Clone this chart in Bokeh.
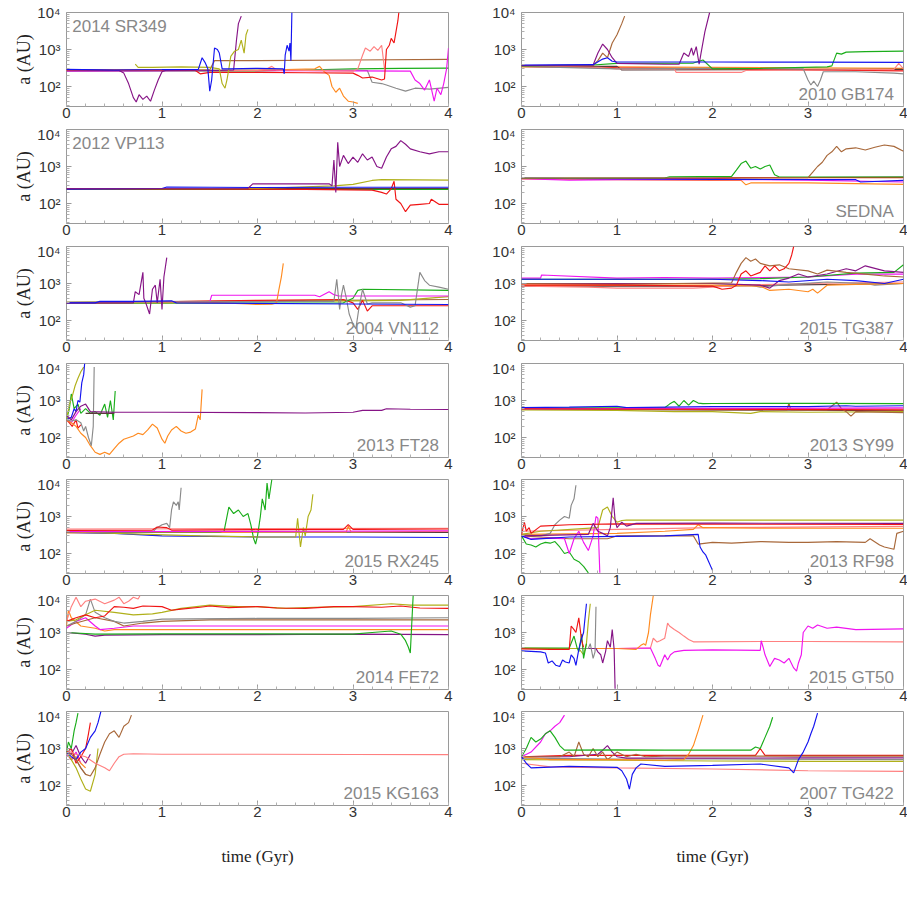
from bokeh.plotting import figure
from bokeh.models import FixedTicker, Label, CustomJSTickFormatter
from bokeh.layouts import gridplot
from bokeh.embed import file_html
from bokeh.resources import INLINE

# ---------------- colours ----------------
COLORS = {
    "red": "#f01414", "green": "#1aad1a", "blue": "#1414f0", "magenta": "#f014f0",
    "orange": "#ff8a1f", "brown": "#a8683a", "purple": "#861486", "olive": "#b0b01a",
    "gray": "#8a8a8a", "salmon": "#ff8080", "dark": "#5a3a3a",
}

# ---------------- data (time in Gyr, semimajor axis in AU) ----------------
SR349 = {
    "green": ([0, 1, 2, 2.5, 3.0, 3.5, 4.0], [260, 262, 265, 280, 300, 310, 315]),
    "brown": ([0, 1.5, 1.55, 2.0, 3.0, 4.0], [280, 285, 500, 500, 520, 540]),
    "gray": ([0, 3.0, 3.15, 3.2, 3.3, 3.35, 3.45, 3.55, 3.65, 3.8, 4.0], [275, 280, 270, 130, 120, 110, 90, 75, 90, 85, 95]),
    "magenta": ([0, 1.0, 2.0, 3.0, 3.6, 3.65, 3.7, 3.75, 3.8, 3.85, 3.88, 3.92, 3.95, 3.98, 4.0],
                [260, 265, 270, 265, 260, 150, 120, 80, 150, 40, 90, 60, 120, 300, 1100]),
    "orange": ([0, 2.0, 2.6, 2.65, 2.7, 2.75, 2.78, 2.82, 2.86, 2.9, 2.95, 3.0, 3.05],
               [270, 275, 300, 350, 250, 200, 100, 70, 90, 55, 40, 38, 35]),
    "salmon": ([0, 2.0, 2.1, 2.15, 2.2, 3.0, 3.05, 3.1, 3.13, 3.18, 3.22, 3.26, 3.3, 3.33],
               [270, 270, 300, 350, 280, 260, 300, 700, 1100, 900, 1200, 950, 1300, 300]),
    "red": ([0, 1.0, 1.35, 1.4, 1.5, 2.0, 2.5, 3.0, 3.05, 3.1, 3.2, 3.3, 3.33, 3.35, 3.38, 3.4, 3.43, 3.45, 3.47, 3.48],
            [280, 275, 270, 220, 240, 240, 235, 230, 200, 170, 180, 150, 160, 1000, 1300, 2000, 1500, 3000, 6000, 10000]),
    "purple": ([0, 0.55, 0.6, 0.65, 0.7, 0.73, 0.76, 0.8, 0.84, 0.88, 0.92, 0.96, 1.0, 1.05, 1.3, 1.6, 1.75, 1.78, 1.8, 1.83],
               [280, 270, 230, 120, 50, 38, 60, 45, 55, 40, 80, 150, 250, 280, 275, 270, 280, 1800, 5000, 8000]),
    "olive": ([0.72, 0.75, 0.9, 1.2, 1.5, 1.6, 1.63, 1.66, 1.68, 1.7, 1.72, 1.76, 1.8, 1.83, 1.86, 1.88, 1.9],
              [400, 330, 330, 340, 330, 300, 120, 90, 150, 300, 650, 900, 1000, 1800, 800, 2500, 3500]),
    "blue": ([0, 0.5, 1.0, 1.38, 1.42, 1.45, 1.48, 1.5, 1.52, 1.55, 1.58, 1.6, 1.63, 1.7, 2.0, 2.27, 2.28, 2.29, 2.31, 2.33, 2.34, 2.35, 2.36],
             [290, 280, 285, 290, 600, 450, 300, 75, 150, 1100, 1000, 800, 300, 300, 310, 300, 220, 700, 1300, 900, 1500, 500, 10000]),
}

GB174 = {
    "orange": ([0, 1, 2, 3, 4], [340, 340, 330, 320, 310]),
    "dark": ([0, 1.0, 1.05, 4], [350, 350, 280, 290]),
    "red": ([0, 1.0, 2.0, 3.0, 4.0], [350, 320, 300, 280, 265]),
    "salmon": ([0, 0.8, 1.0, 1.6, 1.62, 2.3, 2.35, 3.0, 3.9, 3.95, 4.0], [350, 330, 300, 300, 240, 240, 270, 280, 290, 420, 300]),
    "gray": ([0, 1.0, 2.0, 2.95, 3.0, 3.03, 3.06, 3.1, 3.13, 3.16, 3.5, 3.9, 4.0],
             [350, 300, 310, 300, 150, 110, 140, 100, 150, 250, 250, 230, 220]),
    "green": ([0, 0.75, 1.0, 1.8, 1.9, 2.0, 2.5, 3.2, 3.25, 3.3, 3.35, 3.4, 3.6, 4.0],
              [360, 380, 420, 430, 520, 300, 310, 340, 360, 800, 750, 850, 880, 900]),
    "brown": ([0, 0.75, 0.8, 0.85, 0.9, 0.95, 1.0, 1.05, 1.08], [360, 370, 500, 800, 600, 1500, 2500, 5000, 8000]),
    "purple": ([0, 0.75, 0.8, 0.85, 0.9, 0.95, 1.0, 1.5, 1.65, 1.7, 1.75, 1.78, 1.8, 1.83, 1.86, 1.88, 1.92, 1.97],
               [370, 380, 800, 1400, 1000, 600, 420, 400, 400, 800, 650, 1100, 700, 1200, 400, 800, 3000, 10000]),
    "blue": ([0, 0.75, 0.85, 0.9, 0.95, 1.0, 2.0, 3.0, 4.0], [380, 390, 550, 600, 480, 460, 460, 455, 450]),
}

VP113 = {
    "green": ([0, 2, 4], [240, 240, 240]),
    "dark": ([0, 4], [250, 255]),
    "olive": ([0, 2.0, 2.8, 3.0, 3.2, 3.3, 4.0], [250, 255, 300, 330, 420, 440, 430]),
    "red": ([0, 2.5, 3.2, 3.3, 3.35, 3.4, 3.43, 3.45, 3.5, 3.55, 3.6, 3.7, 3.8, 3.82, 3.9, 4.0],
            [250, 240, 230, 200, 180, 250, 400, 130, 100, 60, 90, 95, 100, 130, 95, 95]),
    "blue": ([0, 1.0, 1.05, 2, 3, 4], [245, 255, 280, 270, 275, 275]),
    "purple": ([0, 1.9, 1.95, 2.75, 2.78, 2.8, 2.82, 2.84, 2.86, 2.9, 2.95, 3.0, 3.05, 3.1, 3.15, 3.2, 3.25, 3.3,
                3.35, 3.4, 3.45, 3.5, 3.55, 3.6, 3.7, 3.8, 3.9, 4.0],
               [250, 255, 340, 340, 300, 1500, 200, 4500, 1000, 2000, 1200, 1800, 1300, 2200, 1500, 1800, 1000, 900,
                1800, 3000, 3500, 5000, 4000, 3000, 2500, 2200, 2500, 2500]),
}

SEDNA = {
    "dark": ([0, 2, 4], [480, 490, 520]),
    "red": ([0, 2.0, 2.3, 4.0], [480, 470, 500, 500]),
    "orange": ([0, 2.0, 2.3, 2.35, 2.4, 3.0, 4.0], [460, 420, 420, 320, 360, 360, 330]),
    "magenta": ([0, 0.5, 1.0, 2.0, 3.0, 4.0], [470, 430, 440, 450, 430, 380]),
    "blue": ([0, 2.0, 3.5, 3.55, 4.0], [480, 450, 440, 380, 420]),
    "green": ([0, 1.5, 1.55, 2.2, 2.25, 2.3, 2.35, 2.4, 2.45, 2.5, 2.55, 2.6, 2.65, 2.7, 4.0],
              [480, 490, 530, 540, 800, 1200, 1400, 900, 1000, 850, 1000, 1100, 600, 520, 520]),
    "brown": ([0, 3.0, 3.05, 3.1, 3.15, 3.2, 3.25, 3.3, 3.35, 3.4, 3.5, 3.6, 3.7, 3.8, 3.9, 4.0],
              [480, 500, 700, 1000, 1300, 2000, 2500, 3500, 2500, 3000, 3200, 2800, 3300, 3800, 3500, 2600]),
}

VN112 = {
    "brown": ([0, 2.0, 4.0], [310, 340, 370]),
    "olive": ([0, 2.5, 3.5, 4.0], [310, 330, 350, 440]),
    "red": ([0, 2.0, 2.9, 3.0, 3.05, 3.1, 3.15, 3.2, 4.0], [290, 350, 370, 300, 200, 350, 180, 250, 250]),
    "green": ([0, 2.9, 3.0, 3.05, 3.1, 4.0], [290, 300, 400, 650, 700, 650]),
    "magenta": ([0, 1.5, 1.52, 2.6, 2.65, 2.75, 2.8, 2.85, 3.0, 4.0], [300, 320, 480, 480, 440, 600, 500, 460, 460, 460]),
    "orange": ([0, 1.5, 1.9, 2.0, 2.15, 2.2, 2.22, 2.25, 2.27], [300, 310, 280, 270, 275, 300, 600, 1500, 3500]),
    "gray": ([0, 2.5, 2.8, 2.83, 2.86, 2.88, 2.9, 2.93, 2.96, 3.0, 3.03, 3.06, 3.1, 3.15, 3.2, 3.5, 3.6, 3.65, 3.7, 3.75, 3.8, 3.9, 4.0],
             [310, 330, 330, 1300, 200, 500, 900, 400, 150, 80, 60, 200, 700, 280, 300, 300, 230, 250, 2000, 1200, 900, 800, 700]),
    "purple": ([0, 0.7, 0.72, 0.76, 0.8, 0.81, 0.83, 0.87, 0.9, 0.93, 0.95, 0.98, 1.0, 1.02, 1.05],
               [300, 300, 600, 500, 2000, 400, 300, 150, 700, 900, 300, 1300, 200, 1500, 5000]),
    "blue": ([0, 0.3, 0.35, 0.7, 1.1, 1.15, 2, 3, 4], [300, 300, 330, 330, 340, 300, 290, 280, 270]),
}

TG387 = {
    "dark": ([0, 2, 4], [850, 850, 1000]),
    "salmon": ([0, 0.7, 1.0, 1.8, 2.0, 2.3, 3.0, 4.0], [850, 800, 750, 750, 800, 900, 1000, 1100]),
    "gray": ([0, 2.0, 2.4, 2.5, 2.8, 3.2, 3.6, 3.7, 4.0], [1000, 1000, 900, 800, 950, 1100, 1000, 900, 1000]),
    "orange": ([0, 2.0, 2.5, 2.6, 2.8, 3.0, 3.05, 3.1, 3.2, 3.5, 4.0], [900, 900, 850, 650, 700, 600, 700, 550, 900, 950, 1000]),
    "magenta": ([0, 0.2, 0.21, 1.0, 1.5, 2.0, 3.0, 3.5, 4.0], [1400, 1400, 1700, 1400, 1450, 1400, 1500, 1800, 1800]),
    "green": ([0, 2.0, 2.5, 3.0, 3.5, 3.9, 4.0], [1300, 1300, 1350, 1500, 1900, 2000, 3200]),
    "purple": ([0, 2.0, 2.5, 2.6, 2.7, 2.8, 2.9, 3.0, 3.2, 3.4, 3.5, 3.6, 3.8, 4.0],
               [1000, 1000, 900, 750, 1200, 1400, 1800, 1500, 1800, 2500, 2200, 3000, 2200, 2000]),
    "brown": ([0, 1.0, 2.2, 2.25, 2.3, 2.35, 2.4, 2.45, 2.5, 2.6, 2.7, 2.8, 3.0, 3.1, 3.2, 3.4, 3.6, 3.8, 4.0],
              [1000, 950, 1050, 2000, 3500, 5000, 4000, 4600, 3500, 3000, 3200, 2500, 2200, 1800, 2300, 2000, 1800, 1600, 1500]),
    "blue": ([0, 1, 2, 2.5, 2.8, 3.2, 3.5, 3.8, 4.0], [1300, 1300, 1300, 1200, 1100, 1300, 1200, 1000, 1300]),
    "red": ([0, 1.0, 2.0, 2.1, 2.2, 2.25, 2.3, 2.35, 2.4, 2.5, 2.55, 2.6, 2.65, 2.7, 2.75, 2.8, 2.83, 2.85],
            [900, 900, 850, 700, 750, 900, 1800, 2200, 1600, 2000, 3000, 2200, 3000, 2200, 2500, 3500, 6000, 10000]),
}

FT28 = {
    "magenta": ([0, 0.05, 0.1, 0.15], [320, 250, 400, 600]),
    "red": ([0, 0.03, 0.06, 0.1, 0.12, 0.15], [300, 250, 200, 300, 180, 220]),
    "orange": ([0, 0.05, 0.1, 0.15, 0.2, 0.25, 0.3, 0.35, 0.4, 0.45, 0.5, 0.55, 0.6, 0.7, 0.75, 0.8, 0.85, 0.9, 0.95,
                1.0, 1.03, 1.06, 1.1, 1.15, 1.2, 1.25, 1.3, 1.35, 1.38, 1.4, 1.42],
               [300, 250, 200, 130, 100, 60, 40, 35, 40, 35, 50, 70, 90, 110, 130, 120, 160, 230, 180,
                90, 70, 110, 160, 200, 150, 130, 140, 170, 400, 300, 2000]),
    "green": ([0, 0.03, 0.05, 0.08, 0.12, 0.15, 0.2, 0.25, 0.3, 0.35, 0.4, 0.43, 0.46, 0.49, 0.51],
              [300, 600, 1500, 600, 800, 450, 600, 450, 500, 400, 800, 350, 1000, 300, 1800]),
    "olive": ([0, 0.03, 0.06, 0.09, 0.12, 0.15, 0.18], [300, 800, 1300, 2500, 4000, 6000, 8000]),
    "blue": ([0, 0.05, 0.08, 0.1, 0.12, 0.14, 0.16, 0.18, 0.19], [300, 350, 600, 500, 1000, 900, 3000, 5000, 10000]),
    "gray": ([0, 0.05, 0.1, 0.15, 0.18, 0.2, 0.23, 0.26, 0.28, 0.29], [300, 280, 300, 250, 150, 200, 100, 60, 200, 8000]),
    "dark": ([0.2, 0.5], [450, 450]),
    "purple": ([0, 0.05, 0.1, 0.15, 0.2, 0.25, 0.5, 1.0, 2.0, 2.5, 3.0, 3.1, 3.3, 3.35, 3.6, 4.0],
               [400, 300, 500, 700, 800, 500, 480, 480, 470, 460, 480, 540, 540, 600, 580, 570]),
}

SY99 = {
    "dark": ([0, 2, 4], [580, 560, 530]),
    "salmon": ([0, 2, 4], [590, 590, 600]),
    "olive": ([0, 1.0, 1.6, 2.0, 2.4, 2.5, 3.0, 4.0], [560, 540, 500, 500, 450, 500, 480, 500]),
    "brown": ([0, 2.0, 2.78, 2.8, 2.82, 3.2, 3.3, 3.35, 3.4, 3.45, 3.5, 4.0], [600, 560, 560, 850, 560, 560, 900, 600, 500, 380, 500, 470]),
    "green": ([0, 1.5, 1.55, 1.6, 1.65, 1.7, 1.75, 1.8, 1.85, 1.9, 2.0, 3.0, 4.0],
              [620, 640, 800, 950, 700, 1000, 750, 1000, 850, 820, 830, 840, 820]),
    "blue": ([0, 0.5, 1.0, 1.1, 2.0, 3.0, 3.4, 3.5, 4.0], [640, 660, 700, 640, 680, 680, 720, 700, 720]),
    "magenta": ([0, 2, 4], [600, 610, 630]),
    "red": ([0, 2, 4], [600, 580, 560]),
}

RX245 = {
    "dark": ([0, 2, 4], [390, 380, 370]),
    "salmon": ([0, 2, 4], [460, 470, 480]),
    "orange": ([0, 1.0, 2.0, 2.93, 2.95, 2.98, 4.0], [360, 370, 380, 380, 550, 380, 400]),
    "blue": ([0, 0.5, 1.0, 2.0, 3.0, 4.0], [370, 350, 300, 280, 280, 270]),
    "gray": ([0, 0.9, 0.95, 1.0, 1.05, 1.08, 1.1, 1.12, 1.15, 1.17, 1.18, 1.2], [380, 380, 500, 600, 650, 500, 1500, 2500, 2000, 2500, 1500, 6000]),
    "green": ([0, 1.6, 1.65, 1.7, 1.75, 1.8, 1.85, 1.9, 1.93, 1.96, 1.98, 2.0, 2.03, 2.05, 2.08, 2.1, 2.12, 2.15],
              [380, 380, 400, 1800, 1200, 1500, 1000, 1200, 600, 250, 180, 300, 1000, 3000, 1500, 8000, 3000, 10000]),
    "olive": ([0, 1.4, 2.0, 2.4, 2.42, 2.45, 2.48, 2.5, 2.53, 2.56, 2.58], [380, 300, 280, 280, 900, 150, 500, 300, 1000, 1500, 4000]),
    "magenta": ([0, 2.5, 4.0], [390, 400, 410]),
    "red": ([0, 0.9, 0.95, 1.05, 1.1, 2.0, 2.9, 2.95, 3.0, 4.0], [420, 430, 520, 500, 430, 440, 450, 600, 450, 460]),
}

RF98 = {
    "salmon": ([0, 1.0, 2.0, 4.0], [400, 450, 500, 540]),
    "orange": ([0, 1.0, 1.5, 1.8, 1.85, 1.9, 2.5, 3.0, 4.0], [330, 350, 400, 450, 600, 500, 480, 480, 480]),
    "brown": ([0, 0.5, 0.9, 1.0, 1.8, 1.85, 2.0, 2.2, 2.5, 2.8, 3.0, 3.3, 3.6, 3.65, 3.75, 3.8, 3.9, 3.93, 4.0],
              [300, 250, 250, 300, 300, 180, 200, 190, 210, 200, 200, 210, 200, 250, 170, 150, 130, 350, 400]),
    "gray": ([0, 0.2, 0.3, 0.35, 0.4, 0.45, 0.5, 0.52, 0.55, 0.57], [320, 300, 350, 600, 800, 1000, 900, 2000, 3000, 7000]),
    "green": ([0, 0.05, 0.1, 0.15, 0.2, 0.25, 0.3, 0.35, 0.4, 0.45, 0.5, 0.55, 0.6, 0.65, 0.7],
              [300, 180, 170, 150, 180, 200, 190, 210, 150, 100, 110, 70, 60, 45, 30]),
    "magenta": ([0, 0.1, 0.3, 0.45, 0.5, 0.55, 0.6, 0.65, 0.7, 0.75, 0.78, 0.8, 0.82],
                [300, 250, 260, 250, 100, 250, 400, 200, 120, 300, 1000, 900, 30]),
    "olive": ([0, 0.2, 0.8, 0.85, 0.9, 0.95, 1.0, 1.05, 1.1, 2.0, 4.0], [330, 400, 500, 1500, 1800, 1000, 700, 780, 800, 800, 800]),
    "red": ([0, 0.03, 0.05, 0.08, 0.1, 0.2, 0.5, 1.0, 2.0, 4.0], [320, 700, 400, 500, 350, 550, 600, 630, 620, 610]),
    "purple": ([0, 0.7, 0.75, 0.8, 0.85, 0.9, 0.93, 0.96, 0.98, 1.0, 1.05, 1.1, 1.2, 2.0, 4.0],
               [300, 330, 650, 400, 350, 300, 500, 3200, 800, 500, 700, 550, 650, 660, 650]),
    "blue": ([0, 0.1, 0.5, 1.0, 1.5, 1.85, 1.87, 1.9, 1.93, 1.96, 2.0], [300, 240, 280, 290, 300, 330, 150, 110, 90, 60, 35]),
}

FE72 = {
    "purple": ([0, 0.2, 0.3, 0.4, 1.0, 2.0, 3.0, 4.0], [1000, 900, 800, 850, 880, 880, 900, 880]),
    "orange": ([0, 0.02, 0.05, 0.15, 0.3, 0.4, 0.5, 1.0, 2.0, 3.0, 4.0], [1500, 4000, 2500, 1500, 1300, 1100, 1200, 1200, 1200, 1200, 1200]),
    "magenta": ([0, 0.1, 0.2, 0.3, 0.35, 0.5, 0.7, 1.0, 2.0, 3.0, 4.0], [1300, 2000, 2500, 1500, 1200, 1300, 1500, 1500, 1500, 1500, 1500]),
    "brown": ([0, 0.1, 0.3, 0.5, 0.6, 0.8, 1.0, 1.5, 2.0, 3.0, 4.0], [1500, 1800, 2500, 2000, 1500, 1800, 2000, 2200, 2200, 2200, 2200]),
    "gray": ([0, 0.1, 0.2, 0.25, 0.3, 0.4, 0.5, 0.6, 0.8, 1.0, 2.0, 3.0, 4.0],
             [1500, 2000, 3000, 8000, 3500, 2500, 2000, 1800, 2000, 2300, 2400, 2400, 2500]),
    "salmon": ([0, 0.05, 0.1, 0.15, 0.2, 0.3, 0.4, 0.5, 0.55, 0.6, 0.65, 0.7, 0.75, 0.77],
               [2000, 5000, 9000, 5000, 7000, 8000, 6000, 7500, 9000, 6000, 7000, 9000, 8000, 10000]),
    "olive": ([0, 0.1, 0.2, 0.3, 0.5, 0.7, 0.9, 1.0, 1.2, 1.5, 1.8, 2.0, 2.3, 2.6, 3.0, 3.4, 3.6, 4.0],
              [2000, 2200, 3000, 4000, 3500, 3000, 3200, 3500, 4500, 5500, 5000, 5000, 4500, 4800, 5000, 6000, 5500, 5500]),
    "red": ([0, 0.1, 0.2, 0.3, 0.4, 0.5, 0.6, 0.7, 0.8, 1.0, 1.1, 1.2, 1.4, 1.5, 1.7, 2.0, 2.2, 2.5, 2.8, 3.0, 3.3, 3.5, 3.7, 4.0],
            [2000, 2500, 3000, 2500, 2800, 5000, 4800, 4500, 5200, 5000, 4000, 4300, 4800, 5200, 4700, 5000, 4600,
             4500, 5000, 5000, 4800, 5200, 4600, 4500]),
    "green": ([0, 0.3, 1.0, 2.0, 3.0, 3.2, 3.4, 3.5, 3.55, 3.58, 3.6, 3.63], [1000, 900, 920, 920, 900, 1000, 1100, 900, 600, 400, 280, 10000]),
}

GT50 = {
    "salmon": ([0, 1.0, 1.35, 1.38, 1.42, 1.45, 1.5, 1.53, 1.55, 1.6, 1.65, 1.7, 1.75, 1.8, 2.5, 3.0, 4.0],
               [370, 370, 380, 700, 550, 600, 700, 1800, 1500, 1200, 1000, 800, 650, 560, 570, 570, 560]),
    "magenta": ([0, 1.0, 1.35, 1.4, 1.43, 1.45, 1.5, 1.53, 1.56, 1.6, 1.7, 2.0, 2.5, 2.51, 2.53, 2.55, 2.6, 2.65, 2.7,
                 2.75, 2.8, 2.85, 2.88, 2.9, 2.93, 2.95, 3.0, 3.05, 3.1, 3.2, 3.3, 3.5, 4.0],
                [370, 370, 380, 200, 130, 120, 250, 180, 250, 300, 330, 340, 330, 600, 400, 250, 120, 200, 180,
                 150, 200, 110, 90, 150, 250, 1000, 1500, 1300, 1600, 1300, 1400, 1200, 1250]),
    "orange": ([0, 0.5, 1.0, 1.2, 1.25, 1.28, 1.3, 1.33, 1.35, 1.38], [380, 370, 370, 350, 450, 500, 450, 1000, 3000, 10000]),
    "purple": ([0, 0.78, 0.8, 0.83, 0.85, 0.88, 0.9, 0.93, 0.95, 0.97, 0.98], [370, 370, 300, 250, 150, 300, 600, 400, 1200, 350, 30]),
    "gray": ([0, 0.7, 0.72, 0.75, 0.77, 0.78], [370, 370, 500, 200, 300, 5000]),
    "olive": ([0, 0.6, 0.65, 0.68, 0.7, 0.72], [370, 370, 250, 500, 2000, 6000]),
    "green": ([0, 0.5, 0.55, 0.58, 0.6, 0.63, 0.65, 0.68], [380, 380, 800, 400, 300, 900, 200, 500]),
    "red": ([0, 0.3, 0.5, 0.52, 0.55, 0.57, 0.6, 0.63, 0.65], [360, 350, 350, 1500, 1200, 1000, 2500, 600, 400]),
    "blue": ([0, 0.2, 0.25, 0.28, 0.32, 0.36, 0.4, 0.43, 0.46, 0.5, 0.52, 0.55, 0.57, 0.6, 0.63, 0.65, 0.68],
             [320, 300, 280, 150, 170, 130, 120, 180, 160, 150, 250, 200, 130, 350, 700, 1000, 6000]),
}

KG163 = {
    "magenta": ([0, 0.05, 0.1, 0.15], [700, 500, 800, 400]),
    "orange": ([0, 0.05, 0.1, 0.15, 0.2], [800, 500, 600, 400, 300]),
    "gray": ([0, 0.05, 0.1, 0.15, 0.2], [700, 1000, 500, 300, 200]),
    "purple": ([0, 0.05, 0.1, 0.15, 0.2, 0.25], [900, 700, 1200, 600, 400, 700]),
    "red": ([0, 0.05, 0.1, 0.15, 0.2, 0.23, 0.25], [800, 1000, 400, 600, 1000, 2500, 5000]),
    "olive": ([0, 0.05, 0.1, 0.15, 0.2, 0.25, 0.3, 0.33], [800, 500, 300, 150, 80, 70, 200, 1000]),
    "green": ([0, 0.02, 0.05, 0.08, 0.1, 0.12], [800, 1500, 1000, 3000, 5000, 9000]),
    "blue": ([0, 0.05, 0.1, 0.15, 0.2, 0.25, 0.3, 0.33, 0.36], [800, 600, 500, 800, 1000, 2000, 3000, 5000, 10000]),
    "brown": ([0, 0.05, 0.1, 0.15, 0.2, 0.25, 0.3, 0.35, 0.4, 0.45, 0.5, 0.55, 0.6, 0.65, 0.68],
              [800, 700, 500, 300, 200, 180, 300, 700, 1500, 2500, 3000, 2000, 4000, 5000, 8000]),
    "salmon": ([0, 0.1, 0.2, 0.3, 0.4, 0.45, 0.5, 0.55, 0.6, 0.7, 1.0, 2.0, 3.0, 4.0],
               [900, 700, 600, 400, 300, 250, 400, 600, 700, 720, 700, 700, 690, 680]),
}

TG422 = {
    "gray": ([0, 1.0, 2.0, 4.0], [550, 520, 520, 500]),
    "olive": ([0, 1.0, 2.0, 3.0, 4.0], [500, 480, 460, 450, 450]),
    "salmon": ([0, 0.3, 1.0, 2.0, 3.0, 4.0], [400, 320, 300, 280, 250, 240]),
    "red": ([0, 0.5, 1.0, 2.0, 2.45, 2.5, 2.55, 3.0, 4.0], [600, 650, 650, 650, 650, 1000, 650, 650, 650]),
    "purple": ([0, 0.5, 0.8, 0.85, 0.9, 0.95, 1.0, 1.1, 2.0, 3.0, 4.0], [600, 600, 700, 900, 1200, 800, 600, 550, 550, 560, 560]),
    "brown": ([0, 0.4, 0.5, 0.55, 0.6, 0.65, 0.7, 0.75, 0.8, 0.85, 0.9, 1.0, 1.1, 1.2, 1.3, 1.5, 2.0, 3.0, 4.0],
              [600, 600, 800, 600, 1500, 700, 600, 1000, 600, 800, 500, 800, 600, 700, 600, 620, 620, 620, 620]),
    "orange": ([0, 0.3, 1.0, 1.5, 1.7, 1.75, 1.8, 1.85, 1.9], [600, 500, 500, 480, 500, 700, 1200, 3000, 8000]),
    "magenta": ([0, 0.1, 0.2, 0.25, 0.3, 0.35, 0.4, 0.45], [600, 800, 1500, 2500, 3000, 4000, 5000, 8000]),
    "green": ([0, 0.05, 0.1, 0.15, 0.2, 0.25, 0.3, 0.35, 0.4, 0.45, 0.5, 1.0, 1.5, 2.0, 2.4, 2.45, 2.5, 2.55, 2.6, 2.63],
              [600, 1000, 2000, 1500, 1800, 2500, 3000, 2000, 1200, 900, 900, 920, 900, 900, 900, 1100, 1000, 2000, 4000, 7000]),
    "blue": ([0, 0.05, 0.1, 0.5, 1.0, 1.05, 1.1, 1.13, 1.16, 1.2, 1.25, 1.5, 2.0, 2.5, 2.8, 2.85, 2.9, 2.95, 3.0, 3.03, 3.06, 3.1],
             [600, 400, 300, 330, 310, 250, 150, 80, 200, 300, 380, 330, 350, 380, 300, 220, 500, 800, 1500, 2500, 4000, 9000]),
}

PANEL_NAMES = ["2014 SR349", "2010 GB174", "2012 VP113", "SEDNA", "2004 VN112", "2015 TG387",
               "2013 FT28", "2013 SY99", "2015 RX245", "2013 RF98", "2014 FE72", "2015 GT50",
               "2015 KG163", "2007 TG422"]
PANEL_DATA = [SR349, GB174, VP113, SEDNA, VN112, TG387, FT28, SY99, RX245, RF98, FE72, GT50, KG163, TG422]
LABEL_TOP_LEFT = ["2014 SR349", "2012 VP113"]

X_TICKS = [0, 1, 2, 3, 4]
Y_TICKS = [100, 1000, 10000]

# ---------------- layout ----------------
FRAME_H = 94
Y_LOW = 10 ** (4 - 94 / 37.0)
ROW_TOP = [12, 4, 4, 4, 4, 4, 4]
ROW_BOTTOM = [19, 19, 19, 18, 18, 18, 75]
LEFT_W, LEFT_BL, LEFT_BR = 453, 66, 5
RIGHT_W, RIGHT_BL, RIGHT_BR = 454, 68, 4
TICK_FONT = "Liberation Sans"

x_minor = [i * 0.2 for i in range(21)]
y_minor = [m * 10 ** k for k in (1, 2, 3) for m in range(2, 10) if m * 10 ** k > Y_LOW]
y_fmt_code = ("var m = {100: '10\\u00b2', 1000: '10\\u00b3', 10000: '10\\u2074'};"
              "var k = Math.round(tick); return (k in m) ? m[k] : '';")


def make_panel(idx):
    row, col = divmod(idx, 2)
    last = row == 6
    top = ROW_TOP[row]
    bottom = ROW_BOTTOM[row]
    h = top + FRAME_H + bottom
    if col == 0:
        w, bl, br = LEFT_W, LEFT_BL, LEFT_BR
    else:
        w, bl, br = RIGHT_W, RIGHT_BL, RIGHT_BR
    p = figure(width=w, height=h, x_range=(0, 4), y_range=(Y_LOW, 1e4), y_axis_type="log",
               output_backend="svg", toolbar_location=None,
               min_border_left=bl, min_border_right=br, min_border_top=top, min_border_bottom=bottom)
    p.background_fill_color = "white"
    p.border_fill_color = "white"
    p.outline_line_color = "#9a9a9a"
    p.outline_line_width = 1
    p.xgrid.grid_line_color = None
    p.ygrid.grid_line_color = None

    data = PANEL_DATA[idx]
    for cname, (t, a) in data.items():
        p.line(t, a, line_color=COLORS[cname], line_width=1.15)

    xa = p.xaxis[0]
    xa.ticker = FixedTicker(ticks=X_TICKS, minor_ticks=x_minor)
    ya = p.yaxis[0]
    ya.ticker = FixedTicker(ticks=Y_TICKS, minor_ticks=y_minor)
    ya.formatter = CustomJSTickFormatter(code=y_fmt_code)
    for ax in (xa, ya):
        ax.axis_line_color = None
        ax.major_tick_in = 5
        ax.major_tick_out = 0
        ax.minor_tick_in = 3
        ax.minor_tick_out = 0
        ax.major_tick_line_color = "#9a9a9a"
        ax.minor_tick_line_color = "#b0b0b0"
        ax.major_label_text_font = TICK_FONT
        ax.major_label_text_font_size = "15px"
        ax.major_label_text_color = "#333333"
    xa.major_label_standoff = 1
    ya.major_label_standoff = 6

    if col == 0:
        ya.axis_label = "a (AU)"
        ya.axis_label_text_font = "Liberation Serif"
        ya.axis_label_text_font_style = "normal"
        ya.axis_label_text_font_size = "18px"
        ya.axis_label_text_color = "#222222"
        ya.axis_label_standoff = 0
    if last:
        xa.axis_label = "time (Gyr)"
        xa.axis_label_text_font = "Liberation Serif"
        xa.axis_label_text_font_style = "normal"
        xa.axis_label_text_font_size = "17px"
        xa.axis_label_text_color = "#222222"
        xa.axis_label_standoff = 27

    name = PANEL_NAMES[idx]
    if name in LABEL_TOP_LEFT:
        lab = Label(x=0.06, y=4300, text=name, text_align="left", text_baseline="middle")
    else:
        lab = Label(x=3.9, y=62, text=name, text_align="right", text_baseline="middle")
    lab.text_font = TICK_FONT
    lab.text_font_size = "17px"
    lab.text_color = "#888888"
    p.add_layout(lab)
    return p


figs = [make_panel(i) for i in range(14)]
rows = [[figs[2 * r], figs[2 * r + 1]] for r in range(7)]
grid = gridplot(rows, toolbar_location=None)

open("out.html", "w").write(file_html(grid, INLINE))
